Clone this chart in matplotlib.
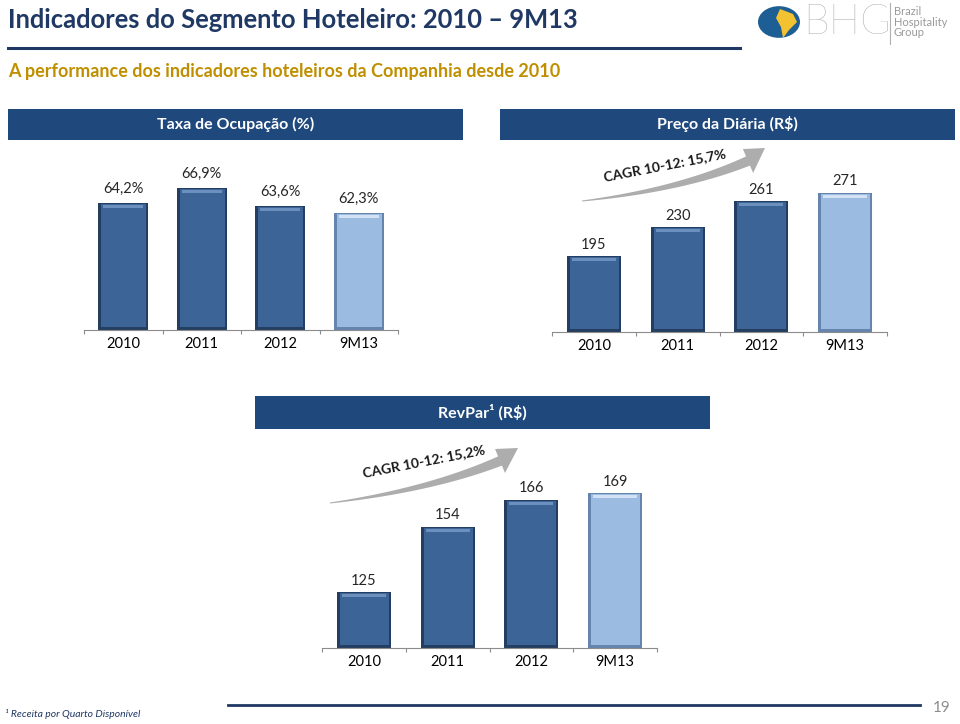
import numpy as np
import matplotlib
matplotlib.use('Agg')
import matplotlib.pyplot as plt
from matplotlib.patches import Rectangle, Polygon, Circle

plt.rcParams['font.family'] = ['Lato', 'DejaVu Sans']

# data
categories = ['2010', '2011', '2012', '9M13']
ocupacao = [64.2, 66.9, 63.6, 62.3]
ocupacao_labels = ['64,2%', '66,9%', '63,6%', '62,3%']
diaria = [195, 230, 261, 271]
revpar = [125, 154, 166, 169]
cagr_diaria = 'CAGR 10-12: 15,7%'
cagr_revpar = 'CAGR 10-12: 15,2%'

W, H = 960, 724
NAVY = '#1F497D'
DARK = '#3C6496'
DARK_EDGE = '#243E62'
LIGHT = '#9CBBE0'
LIGHT_EDGE = '#6585AE'

fig = plt.figure(figsize=(W / 100, H / 100), dpi=100)


def fx(x):
    return x / W


def fy(y):
    return 1 - y / H


def px_axes(left, top, right, bottom):
    return fig.add_axes([fx(left), fy(bottom), (right - left) / W, (bottom - top) / H])


def draw_panel(ax, values, labels, ymin, ymax, width, label_off):
    ax.set_xlim(-0.5, 3.5)
    ax.set_ylim(ymin, ymax)
    bb = ax.get_position()
    dx = 4 / (bb.width * W)
    dy = (ymax - ymin) / (bb.height * H)
    x = np.arange(len(values))
    faces = [DARK, DARK, DARK, LIGHT]
    edges = [DARK_EDGE, DARK_EDGE, DARK_EDGE, LIGHT_EDGE]
    tops = ['#6C90BE', '#6C90BE', '#6C90BE', '#D2E1F3']
    v = np.array(values, dtype=float)
    # outer (shadow) bar, inner face, top highlight
    ax.bar(x, v - ymin, width, bottom=ymin, color=edges, linewidth=0, zorder=2)
    ax.bar(x + 0.5 * dx, v - ymin - 4 * dy, width - 5 * dx, bottom=ymin + 3 * dy,
           color=faces, linewidth=0, zorder=3)
    ax.bar(x, 3 * dy, width - 10 * dx, bottom=v - 5 * dy,
           color=tops, linewidth=0, zorder=4)
    for xi, vi, lab in zip(x, v, labels):
        ax.annotate(lab, (xi, vi), xytext=(0, label_off), textcoords='offset points',
                    ha='center', va='center', fontsize=10.5, color='#262626')
    for s in ['top', 'left', 'right']:
        ax.spines[s].set_visible(False)
    ax.spines['bottom'].set_color('#8C8C8C')
    ax.spines['bottom'].set_linewidth(0.8)
    ax.set_yticks([])
    ax.set_xticks(x)
    ax.set_xticklabels(categories, fontsize=10.5, color='black')
    ax.set_xticks(np.arange(-0.5, 4, 1), minor=True)
    ax.tick_params(axis='x', which='major', length=0, pad=5)
    ax.tick_params(axis='x', which='minor', length=3, color='#8C8C8C', width=0.8)
    ax.patch.set_visible(False)


def curved_arrow(p0, p1, p2, tip, w0, w1, hw, color='#ADADAD'):
    t = np.linspace(0, 1, 80)[:, None]
    p0, p1, p2, tip = map(np.array, (p0, p1, p2, tip))
    pts = (1 - t) ** 2 * p0 + 2 * (1 - t) * t * p1 + t ** 2 * p2
    d = 2 * (1 - t) * (p1 - p0) + 2 * t * (p2 - p1)
    n = np.column_stack([-d[:, 1], d[:, 0]]) / np.linalg.norm(d, axis=1)[:, None]
    w = w0 + (w1 - w0) * t
    upper = pts + n * w
    lower = pts - n * w
    ne = n[-1]
    head = np.array([p2 + ne * hw, tip, p2 - ne * hw])
    poly = np.vstack([upper, head, lower[::-1]])
    poly = np.column_stack([poly[:, 0] / W, 1 - poly[:, 1] / H])
    fig.patches.append(Polygon(poly, closed=True, color=color, lw=0,
                               transform=fig.transFigure, zorder=1))


def header_box(left, top, right, bottom, text):
    fig.patches.append(Rectangle((fx(left), fy(bottom)), (right - left) / W, (bottom - top) / H,
                                 facecolor=NAVY, edgecolor='none', transform=fig.transFigure))
    fig.text(fx((left + right) / 2), fy((top + bottom) / 2), text, ha='center', va='center',
             color='white', fontsize=11.5, fontweight='bold')


# title block
fig.text(fx(8), fy(20), 'Indicadores do Segmento Hoteleiro: 2010 – 9M13', ha='left', va='center',
         fontsize=18.4, fontweight='bold', color='#1F3864')
fig.add_artist(plt.Line2D([fx(8), fx(740)], [fy(48), fy(48)], color='#1F3864', lw=2.2))
fig.text(fx(8), fy(71), 'A performance dos indicadores hoteleiros da Companhia desde 2010',
         ha='left', va='center', fontsize=13, fontweight='bold', color='#BF8F00')

# logo
fig.patches.append(Circle((fx(779), fy(22)), 21 / W, transform=fig.transFigure,
                          facecolor='#1D5F94', edgecolor='none'))
fig.patches.append(Polygon([[fx(780), fy(9)], [fx(793), fy(14)], [fx(797), fy(22)],
                            [fx(789), fy(30)], [fx(783), fy(38)], [fx(781), fy(27)],
                            [fx(776), fy(18)]], closed=True, transform=fig.transFigure,
                           facecolor='#F2C230', edgecolor='none'))
fig.text(fx(803), fy(23), 'BHG', ha='left', va='center', fontsize=30, color='#A0A0A0',
         fontweight='light')
fig.add_artist(plt.Line2D([fx(890), fx(890)], [fy(3), fy(44)], color='#B0B0B0', lw=0.8))
fig.text(fx(894), fy(22), 'Brazil\nHospitality\nGroup', ha='left', va='center', fontsize=8,
         color='#9A9A9A', linespacing=0.95)

# section headers
header_box(8, 109, 463, 140, 'Taxa de Ocupação (%)')
header_box(500, 109, 955, 140, 'Preço da Diária (R$)')
header_box(255, 396, 710, 429, 'RevPar¹ (R$)')

# panels
ax1 = px_axes(84, 150, 398, 330)
draw_panel(ax1, ocupacao, ocupacao_labels, 41.3, 41.3 + 180 / 5.56, 0.64, 10)

ax2 = px_axes(552, 145, 887, 332)
draw_panel(ax2, diaria, [str(v) for v in diaria], 105, 105 + 187 / 0.84, 0.645, 8)

ax3 = px_axes(322, 440, 657, 648)
draw_panel(ax3, revpar, [str(v) for v in revpar], 100, 100 + 208 / 2.25, 0.645, 8)

# CAGR arrows
curved_arrow((582, 201), (680, 190), (748, 161), (765, 148), 0.5, 5, 13)
fig.text(fx(665), fy(165), cagr_diaria, ha='center', va='center', rotation=11,
         fontsize=10, fontweight='bold', color='#1A1A1A')
curved_arrow((330, 503), (430, 490), (500, 461), (518, 448), 0.5, 5, 13)
fig.text(fx(424), fy(461), cagr_revpar, ha='center', va='center', rotation=11,
         fontsize=10, fontweight='bold', color='#1A1A1A')

# footer
fig.add_artist(plt.Line2D([fx(228), fx(920)], [fy(705), fy(705)], color='#1F3864', lw=2))
fig.text(fx(5), fy(714), '¹ Receita por Quarto Disponível', ha='left', va='center',
         fontsize=7.5, style='italic', color='#1F3864')
fig.text(fx(942), fy(708), '19', ha='center', va='center', fontsize=11, color='#8C8C8C')

fig.savefig('out.png', dpi=100)
